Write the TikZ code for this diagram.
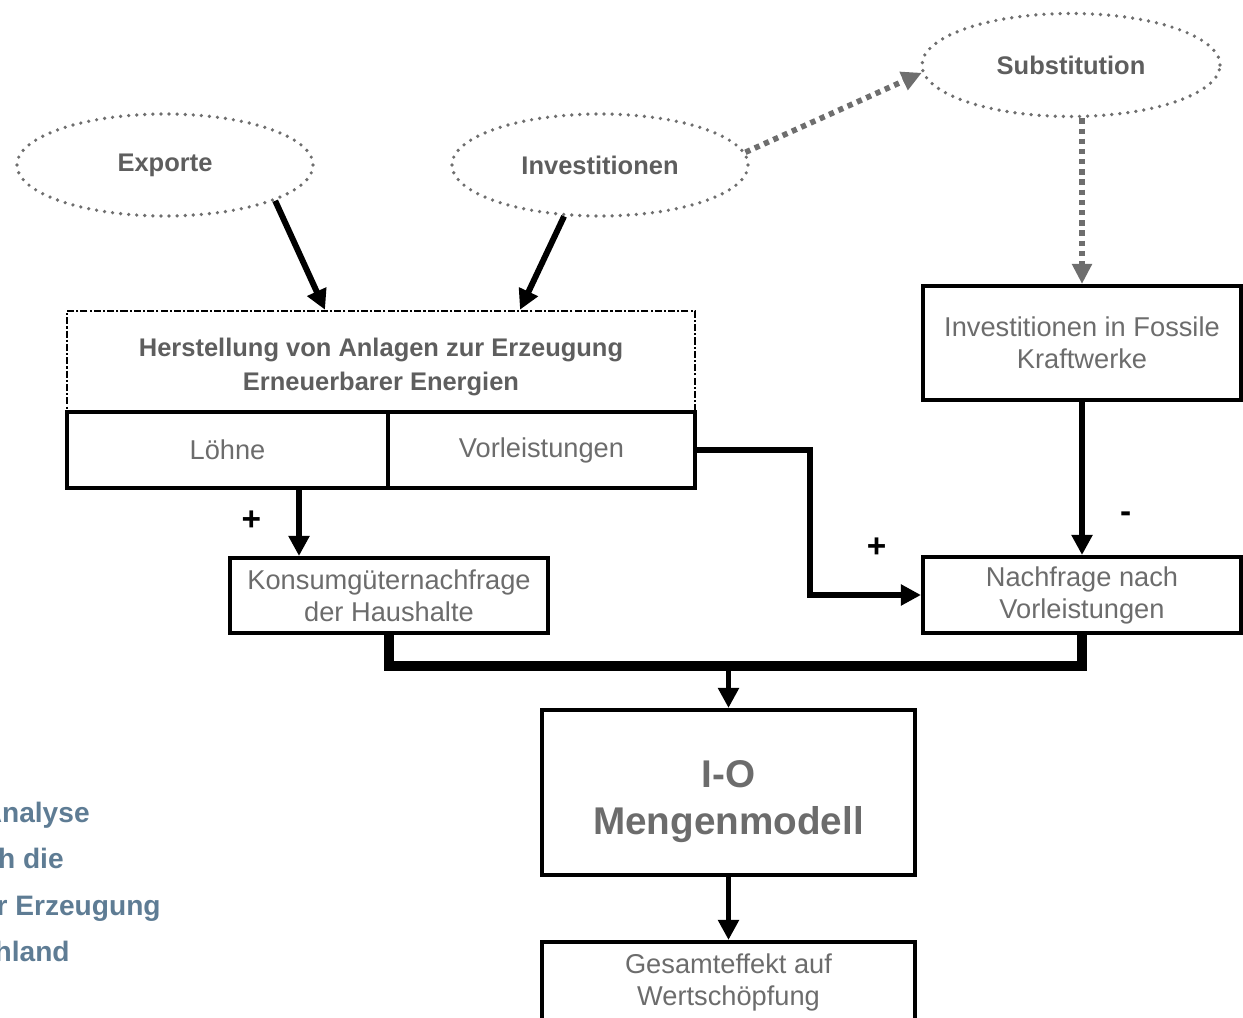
\documentclass[tikz,border=0pt]{standalone}
\usepackage{fontspec}
\setmainfont{Liberation Sans}
\usetikzlibrary{
	arrows.meta,
	calc,
	positioning,
	shapes.geometric
}
\definecolor{TextGray}{RGB}{108,108,108}
\definecolor{LabelGray}{RGB}{94,94,94}
\definecolor{DotGray}{RGB}{110,110,110}
\definecolor{SlateBlue}{RGB}{94,124,148}

\begin{document}
\begin{tikzpicture}[
		ell/.style={ellipse, draw=DotGray, line width=2.1pt, line cap=round, dash pattern=on 0pt off 4.6pt, minimum width=5.92cm, minimum height=2.04cm, text=LabelGray, font=\bfseries\fontsize{14.5}{18}\selectfont},
		box/.style={rectangle, draw, line width=2.3pt, align=center, inner sep=0pt, text=TextGray, font=\fontsize{15.5}{18.2}\selectfont},
		hbox/.style={box, line width=1.4pt, dash pattern=on 4pt off 1.2pt on 1.2pt off 1.2pt, text=LabelGray, font=\bfseries\fontsize{14.5}{19.4}\selectfont},
		arr/.style={line width=3.4pt, -{Triangle[length=0.4cm, width=0.4cm]}},
		dotarr/.style={DotGray, line width=3.2pt, dash pattern=on 3pt off 2.8pt, -{Triangle[length=0.4cm, width=0.38cm]}},
		bus/.style={line width=6pt},
		sign/.style={inner sep=0pt, font=\bfseries\fontsize{19}{19}\selectfont},
		cut/.style={anchor=mid east, inner sep=0pt, text=SlateBlue, font=\bfseries\fontsize{16}{18}\selectfont}
	]
		\useasboundingbox (0,0) rectangle (24.86,20.34);
		
		\node[ell] (ex) at (3.30,17.04) {Exporte};
		\node[ell] (inv) at (12.00,17.04) {Investitionen};
		\node[ell, minimum width=5.96cm, minimum height=2.06cm] (sub) at (21.42,19.04) {Substitution};
		
		\node[hbox, minimum width=12.56cm, minimum height=2.0cm] (hst) at (7.62,13.12) {\rule{0pt}{0.62cm}Herstellung von Anlagen zur Erzeugung\\Erneuerbarer Energien};
		\node[box, minimum width=6.42cm, minimum height=1.52cm] (lohn) at (4.55,11.34) {Löhne};
		\node[box, minimum width=6.14cm, minimum height=1.52cm] (vor) at (10.83,11.34) {Vorleistungen};
		\node[box, minimum width=6.36cm, minimum height=2.28cm] (fos) at (21.64,13.48) {Investitionen in Fossile\\Kraftwerke};
		\node[box, minimum width=6.36cm, minimum height=1.52cm] (nach) at (21.64,8.44) {Nachfrage nach\\Vorleistungen};
		\node[box, minimum width=6.36cm, minimum height=1.50cm] (kons) at (7.78,8.43) {Konsumgüternachfrage\\der Haushalte};
		\node[box, minimum width=7.46cm, minimum height=3.30cm, font=\bfseries\fontsize{22}{27}\selectfont] (io) at (14.57,4.49) {\rule{0pt}{0.9cm}I-O\\Mengenmodell};
		\node[box, minimum width=7.46cm, minimum height=1.60cm] (ges) at (14.57,0.70) {Gesamteffekt auf\\Wertschöpfung};
		
		\draw[arr] (ex.-18) -- ([xshift=-1.12cm]hst.north);
		\draw[arr] (inv.235) -- ([xshift=2.78cm]hst.north);
		\draw[dotarr] (inv.5) -- (sub.183);
		\draw[dotarr] (fos.north |- sub.south) -- (fos.north);
		
		\draw[arr] (fos.south) -- (nach.north) node[sign, pos=0.75, right=0.7cm] {-};
		\coordinate (lp) at ([xshift=1.43cm]lohn.south);
		\draw[arr] (lp) -- (lp |- kons.north) node[sign, pos=0.47, left=0.7cm] {+};
		\draw[arr] (vor.east) -- ++(2.26,0) |- (nach.west) node[sign, pos=0.8, above=0.7cm] {+};
		
		\draw[bus] (kons.south) -- ++(0,-0.62) coordinate (kb) -| (nach.south);
		\draw[arr] (io.north |- kb) -- (io.north);
		\draw[arr] (io.south) -- (ges.north);
		
		\node[cut] (cut1) at (1.80,3.98) {Analyse};
		\node[cut] (cut2) at (1.28,3.06) {h die};
		\node[cut] (cut3) at (3.22,2.12) {r Erzeugung};
		\node[cut] (cut4) at (1.40,1.20) {hland};
	\end{tikzpicture}
\end{document}
